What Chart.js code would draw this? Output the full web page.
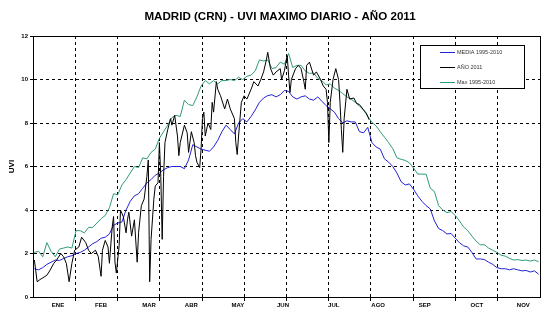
<!DOCTYPE html>
<html>
<head>
<meta charset="utf-8">
<script src="https://cdn.jsdelivr.net/npm/chart.js@4.4.1/dist/chart.umd.min.js"></script>
<style>
  body { margin: 0; background: #fff; }
  #wrap { width: 550px; height: 330px; }
</style>
</head>
<body>
<div id="wrap"><canvas id="myChart" width="550" height="330"></canvas></div>
<script>
// etiquetas y posiciones (dia del año) del eje x
const meses = ['ENE', 'FEB', 'MAR', 'ABR', 'MAY', 'JUN', 'JUL', 'AGO', 'SEP', 'OCT', 'NOV'];
const posMeses = [18, 49, 83.5, 114, 147.5, 180, 216.5, 248.5, 282, 319.5, 353];
const lineasMes = [30.4, 60.8, 91.3, 121.7, 152.1, 182.5, 212.9, 243.3, 273.8, 304.2, 334.6];

// dias comunes para media y maximo (cada 3 dias)
const dias = [1,4,7,10,13,16,19,22,25,28,31,34,37,40,43,46,49,52,55,58,61,64,67,70,73,76,79,82,85,88,
  91,94,97,100,103,106,109,112,115,118,121,124,127,130,133,136,139,142,145,148,151,154,157,160,163,166,169,172,175,178,
  181,184,187,190,193,196,199,202,205,208,211,214,217,220,223,226,229,232,235,238,241,244,247,250,253,256,259,262,265,268,
  271,274,277,280,283,286,289,292,295,298,301,304,307,310,313,316,319,322,325,328,331,334,337,340,343,346,349,352,355,358,361,364];

const media = [1.3,1.25,1.35,1.5,1.6,1.7,1.68,1.77,1.85,1.9,2.0,2.05,2.15,2.3,2.45,2.55,2.7,2.75,2.9,3.3,
  3.4,3.45,4.0,4.4,4.65,4.75,5.0,5.25,5.4,5.6,5.7,5.85,5.95,6.0,6.0,6.0,5.9,6.3,7.0,6.9,
  6.8,6.75,6.7,6.9,7.2,7.6,7.9,7.7,7.5,8.0,8.2,8.05,8.3,8.6,8.95,9.15,9.26,9.3,9.2,9.3,
  9.5,9.45,9.2,9.1,9.2,9.25,9.1,9.05,9.2,9.0,8.8,8.65,8.5,8.2,8.0,8.1,8.05,8.05,7.6,7.55,
  7.8,7.1,6.9,6.8,6.35,6.2,6.0,5.7,5.3,5.15,5.2,4.95,4.65,4.4,4.2,4.05,3.5,3.15,3.05,2.9,
  2.92,2.7,2.5,2.35,2.3,2.05,1.75,1.75,1.72,1.6,1.5,1.35,1.3,1.3,1.25,1.3,1.25,1.2,1.22,1.15,
  1.2,1.05];

const maximo = [2.05,2.1,1.85,2.5,2.1,1.85,2.2,2.25,2.3,2.25,3.05,3.05,2.95,3.2,3.2,3.4,3.6,3.75,4.1,4.75,
  4.7,5.15,5.4,5.7,6.0,5.95,6.4,6.35,6.65,6.8,7.3,7.6,7.9,8.25,8.35,8.3,9.05,8.85,8.8,9.2,
  9.7,9.95,9.8,9.95,9.8,9.95,9.95,10.0,9.95,10.1,10.0,10.15,10.2,10.4,10.9,10.85,10.9,10.5,10.55,10.8,
  10.7,11.2,10.55,10.65,10.65,10.4,10.28,10.3,10.05,9.95,9.75,9.8,9.6,9.5,9.35,9.2,9.1,8.95,8.78,8.6,
  8.3,8.03,7.87,7.6,7.35,7.1,6.82,6.4,6.33,6.28,6.17,5.93,5.65,5.65,5.65,5.0,4.85,4.2,4.0,3.88,
  3.93,3.75,3.5,3.22,3.05,2.8,2.57,2.4,2.4,2.25,2.15,2.05,1.92,1.88,1.78,1.7,1.72,1.68,1.7,1.65,
  1.7,1.62];

// año 2011 (dias propios, termina a finales de agosto)
const dias2011 = [1,2,3,5,8,10,12,15,17,20,22,24,26,28,30,33,35,38,40,42,45,47,49,50,52,54,55,57,58,59,
  60,62,63,65,67,68,69,71,73,75,76,78,80,82,83,84,85,87,88,90,91,92,93,94,95,97,99,100,102,104,
  105,106,109,111,112,114,116,117,118,120,121,122,123,124,126,128,129,130,132,133,135,138,140,142,145,146,147,148,150,152,
  154,157,159,162,164,166,168,169,171,173,175,178,179,181,183,184,185,186,189,191,193,195,196,197,199,202,204,207,209,211,
  212,213,214,216,218,220,221,222,223,224,226,228,231,233,235,238,240,242];

const uvi2011 = [1.7,1.2,0.7,0.8,0.92,1.0,1.2,1.55,1.7,2.0,1.85,1.55,0.7,1.55,2.15,2.3,2.75,2.5,2.15,2.0,2.15,1.85,0.95,2.15,2.6,2.3,1.55,3.2,3.7,1.6,
  1.1,2.35,4.0,3.7,2.95,3.55,3.9,2.8,3.55,1.6,2.95,4.2,4.5,5.55,6.3,0.7,2.65,4.5,5.1,5.25,7.1,5.55,2.65,5.55,7.1,7.7,8.2,7.9,8.35,7.4,
  6.5,7.1,7.9,7.55,6.65,7.6,7.1,6.5,6.2,5.95,6.8,8.2,8.5,7.4,8.0,7.7,8.95,8.5,9.9,9.55,9.25,8.65,9.1,8.65,8.2,7.1,6.55,7.4,8.95,9.25,
  9.1,9.55,9.9,9.7,10.0,10.35,10.9,11.25,10.5,10.2,10.35,10.5,10.0,10.4,11.1,10.2,9.4,10.0,10.5,10.65,10.5,9.9,9.55,10.65,10.8,10.2,10.35,10.0,9.7,9.55,
  8.95,7.1,8.95,10.0,10.5,10.0,8.95,7.7,6.65,8.2,9.55,9.1,9.15,8.9,8.85,8.6,8.45,8.15];

const titulo = 'MADRID (CRN) - UVI MAXIMO DIARIO - AÑO 2011';
const nombres = ['MEDIA 1995-2010', 'AÑO 2011', 'Max 1995-2010'];
const colores = ['#2222d6', '#000000', '#2f9a7a'];

const fuente = '"Liberation Sans", Arial, sans-serif';

function puntos(xs, ys) {
  return xs.map((d, i) => ({ x: d, y: ys[i] }));
}

const extras = {
  id: 'extras',
  afterDraw(chart) {
    const c = chart.ctx;
    const a = chart.chartArea;
    c.save();
    // marco
    c.strokeStyle = '#000';
    c.lineWidth = 1;
    c.setLineDash([]);
    c.strokeRect(Math.round(a.left) + 0.5, Math.round(a.top) + 0.5, Math.round(a.right - a.left), Math.round(a.bottom - a.top));
    // titulo
    c.fillStyle = '#000';
    c.font = 'bold 11.6px ' + fuente;
    c.textAlign = 'center';
    c.textBaseline = 'middle';
    c.fillText(titulo, 280, 17);
    // leyenda
    c.fillStyle = '#fff';
    c.fillRect(420.5, 45.5, 104, 43);
    c.strokeRect(420.5, 45.5, 104, 43);
    c.font = '5.5px ' + fuente;
    c.textAlign = 'left';
    for (let i = 0; i < nombres.length; i++) {
      const yy = 52.5 + i * 15;
      c.strokeStyle = colores[i];
      c.beginPath();
      c.moveTo(440, yy);
      c.lineTo(455, yy);
      c.stroke();
      c.fillStyle = '#333';
      c.fillText(nombres[i], 457, yy);
    }
    c.restore();
  }
};

const ctx = document.getElementById('myChart').getContext('2d');
new Chart(ctx, {
  type: 'line',
  data: {
    datasets: [
      { label: nombres[1], data: puntos(dias2011, uvi2011), borderColor: colores[1], borderWidth: 1, pointRadius: 0, order: 0 },
      { label: nombres[2], data: puntos(dias, maximo), borderColor: colores[2], borderWidth: 1, pointRadius: 0, order: 1 },
      { label: nombres[0], data: puntos(dias, media), borderColor: colores[0], borderWidth: 1, pointRadius: 0, order: 2 }
    ]
  },
  options: {
    responsive: false,
    animation: false,
    layout: { padding: { top: 36, right: 10, left: 0, bottom: 0 } },
    plugins: { legend: { display: false }, tooltip: { enabled: false } },
    scales: {
      x: {
        type: 'linear', min: 0, max: 365,
        afterBuildTicks: s => {
          s.ticks = lineasMes.concat(posMeses).map(v => ({ value: v }));
        },
        afterFit: s => { s.height = 33; },
        ticks: {
          autoSkip: false, maxRotation: 0, padding: 1, color: '#000',
          font: { family: fuente, size: 6, weight: 'bold' },
          callback: v => { const i = posMeses.indexOf(v); return i >= 0 ? meses[i] : ''; }
        },
        grid: {
          color: c => (c.tick && lineasMes.includes(c.tick.value)) ? '#000' : 'rgba(0,0,0,0)',
          tickLength: 4,
          tickBorderDash: [3, 3]
        },
        border: { color: '#000', width: 1, dash: [3, 3] }
      },
      y: {
        min: 0, max: 12,
        afterFit: s => { s.width = 33; },
        ticks: { stepSize: 2, padding: 2, color: '#000', font: { family: fuente, size: 6, weight: 'bold' } },
        grid: { color: '#000', tickLength: 3 },
        border: { color: '#000', width: 1, dash: [3, 3] },
        title: { display: true, text: 'UVI', color: '#000', padding: 7, font: { family: fuente, size: 8, weight: 'bold' } }
      }
    }
  },
  plugins: [extras]
});
</script>
</body>
</html>
